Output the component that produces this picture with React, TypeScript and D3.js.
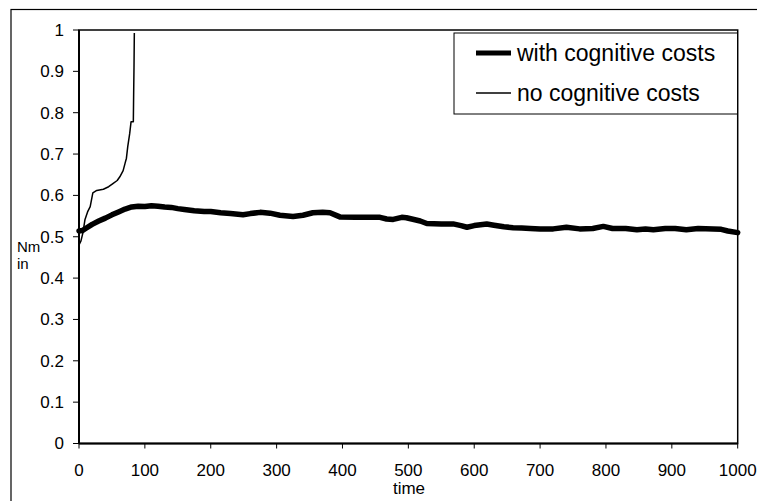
import React from "react";
import * as d3 from "d3";

// ---- Data ----
const withTime = [0, 5, 10, 20, 30, 40, 50, 60, 70, 80, 90, 100, 110, 120, 130, 140, 150, 160, 175, 190, 200, 215, 230, 249, 260, 275, 290, 305, 325, 340, 355, 370, 381, 396, 420, 440, 457, 467, 477, 490, 497, 510, 518, 528, 550, 568, 580, 589, 600, 619, 630, 645, 659, 672, 685, 700, 720, 740, 760, 780, 796, 810, 830, 847, 860, 872, 890, 905, 922, 940, 963, 975, 985, 1000];
const withValues = [0.514, 0.515, 0.52, 0.53, 0.538, 0.545, 0.553, 0.56, 0.567, 0.572, 0.574, 0.573, 0.575, 0.574, 0.572, 0.571, 0.568, 0.566, 0.563, 0.561, 0.561, 0.558, 0.556, 0.553, 0.556, 0.559, 0.557, 0.552, 0.549, 0.552, 0.558, 0.559, 0.558, 0.548, 0.547, 0.547, 0.547, 0.543, 0.542, 0.547, 0.546, 0.541, 0.538, 0.532, 0.531, 0.531, 0.527, 0.523, 0.527, 0.531, 0.528, 0.524, 0.522, 0.521, 0.52, 0.519, 0.519, 0.523, 0.519, 0.52, 0.525, 0.52, 0.52, 0.517, 0.519, 0.517, 0.52, 0.52, 0.517, 0.52, 0.519, 0.518, 0.514, 0.51];

const noTime = [0, 3, 6, 9, 13, 17, 21, 27, 37, 45, 52, 58, 62, 67, 70, 72, 74, 77, 79, 82.5, 83, 83.5, 84];
const noValues = [0.48, 0.49, 0.51, 0.541, 0.56, 0.573, 0.606, 0.612, 0.615, 0.621, 0.629, 0.636, 0.645, 0.66, 0.678, 0.69, 0.718, 0.75, 0.778, 0.778, 0.85, 0.91, 0.993];

const xTicks = [0, 100, 200, 300, 400, 500, 600, 700, 800, 900, 1000];
const yTicks = [0, 0.1, 0.2, 0.3, 0.4, 0.5, 0.6, 0.7, 0.8, 0.9, 1];
const yTickLabels = ["0", "0.1", "0.2", "0.3", "0.4", "0.5", "0.6", "0.7", "0.8", "0.9", "1"];
const seriesNames = ["with cognitive costs", "no cognitive costs"];
const xTitle = "time";
const yTitleLines = ["Nm", "in"];

const W = 757;
const H = 501;
const FONT = "'Liberation Sans', Arial, sans-serif";

export default function App() {
  const left = 79, right = 737.7, top = 30, bottom = 443.5;
  const x = d3.scaleLinear().domain([0, 1000]).range([left, right]);
  const y = d3.scaleLinear().domain([0, 1]).range([bottom, top]);

  const withData = withTime.map((t, i) => [t, withValues[i]] as [number, number]);
  const noData = noTime.map((t, i) => [t, noValues[i]] as [number, number]);
  const line = d3.line<[number, number]>().x(d => x(d[0])).y(d => y(d[1]));

  return (
    <div style={{ position: "fixed", left: 0, top: 0 }}>
      <svg width={W} height={H} style={{ display: "block", background: "#fff" }}>
        {/* outer chart frame */}
        <rect x={11} y={9.5} width={W + 20} height={H + 20} fill="#fff" stroke="#000" strokeWidth={1.2} />
        {/* plot area border */}
        <rect x={left} y={top} width={right - left} height={bottom - top} fill="none" stroke="#000" strokeWidth={1.5} />
        {/* axes */}
        <line x1={left} x2={left} y1={top} y2={bottom} stroke="#000" strokeWidth={2} />
        <line x1={left} x2={right} y1={bottom} y2={bottom} stroke="#000" strokeWidth={2} />
        {yTicks.map((t, i) => (
          <g key={"y" + i}>
            <line x1={left - 6} x2={left} y1={y(t)} y2={y(t)} stroke="#000" strokeWidth={1} />
            <text x={64} y={y(t)} dy="0.35em" textAnchor="end" fontFamily={FONT} fontSize={17} fill="#000">
              {yTickLabels[i]}
            </text>
          </g>
        ))}
        {xTicks.map((t, i) => (
          <g key={"x" + i}>
            <line x1={x(t)} x2={x(t)} y1={bottom} y2={bottom + 5} stroke="#000" strokeWidth={1} />
            <text x={x(t)} y={476} textAnchor="middle" fontFamily={FONT} fontSize={17} fill="#000">
              {t}
            </text>
          </g>
        ))}
        <text x={409} y={494} textAnchor="middle" fontFamily={FONT} fontSize={17} fill="#000">
          {xTitle}
        </text>
        {yTitleLines.map((s, i) => (
          <text key={s} x={17} y={252 + i * 17} textAnchor="start" fontFamily={FONT} fontSize={15} fill="#000">
            {s}
          </text>
        ))}
        {/* series */}
        <path d={line(noData) || ""} fill="none" stroke="#000" strokeWidth={1.5} strokeLinejoin="round" />
        <path d={line(withData) || ""} fill="none" stroke="#000" strokeWidth={5.5} strokeLinejoin="round" strokeLinecap="round" />
        {/* legend */}
        <rect x={454} y={33} width={283.5} height={81} fill="#fff" stroke="#000" strokeWidth={1} />
        <line x1={476} x2={511} y1={53} y2={53} stroke="#000" strokeWidth={5} />
        <text x={517} y={53} dy="0.35em" fontFamily={FONT} fontSize={23} fill="#000">{seriesNames[0]}</text>
        <line x1={476} x2={511} y1={93} y2={93} stroke="#000" strokeWidth={1.5} />
        <text x={517} y={93} dy="0.35em" fontFamily={FONT} fontSize={23} fill="#000">{seriesNames[1]}</text>
      </svg>
    </div>
  );
}
